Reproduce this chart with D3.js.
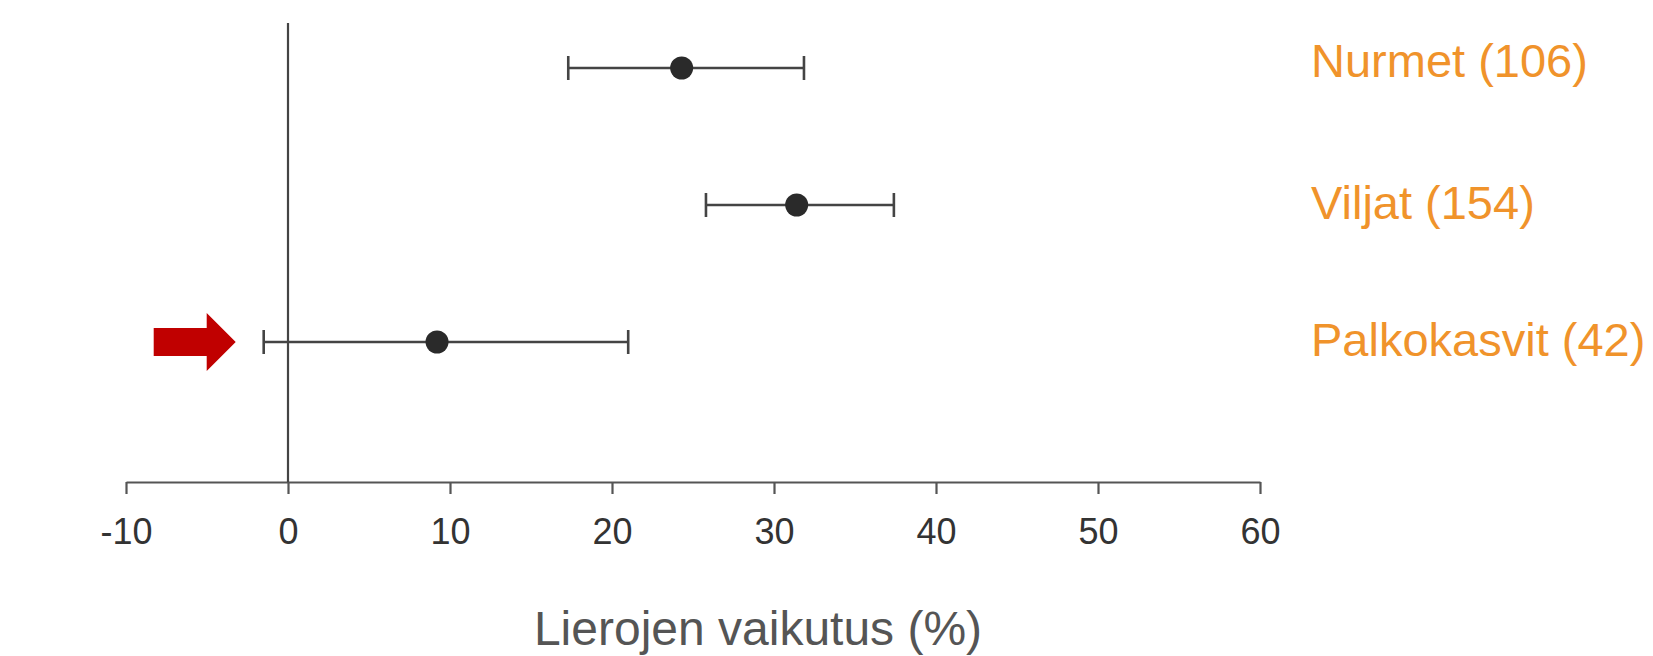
<!DOCTYPE html>
<html>
<head>
<meta charset="utf-8">
<script src="https://cdn.jsdelivr.net/npm/d3@7"></script>
<style>
  body { margin: 0; background: #fff; }
  svg { display: block; font-family: "Liberation Sans", Arial, sans-serif; }
</style>
</head>
<body>
<svg id="chart"></svg>
<script>
// data
const categories = ['Nurmet (106)', 'Viljat (154)', 'Palkokasvit (42)']
const means = [24.3, 31.4, 9.2]
const lower = [17.3, 25.8, -1.5]
const upper = [31.85, 37.4, 21.0]
const xTicks = [-10, 0, 10, 20, 30, 40, 50, 60]
const xLabel = 'Lierojen vaikutus (%)'
const highlighted = 'Palkokasvit (42)'

const width = 1653
const height = 656
const plotTop = 23
const plotBottom = 482

const svg = d3.select('#chart')
  .attr('width', width)
  .attr('height', height)

const x = d3.scaleLinear().domain([-10, 60]).range([126, 1260])
const y = d3.scalePoint().domain(categories).range([68, 342])

const rows = categories.map((c, i) => ({ cat: c, mean: means[i], lo: lower[i], hi: upper[i] }))

// x axis
const axis = svg.append('g')
  .attr('transform', `translate(0,${plotBottom})`)
  .call(d3.axisBottom(x)
    .tickValues(xTicks)
    .tickFormat(d => String(d))   // plain hyphen like the original
    .tickSize(12).tickSizeOuter(0).tickPadding(24))

axis.select('.domain').attr('stroke', '#555').attr('stroke-width', 2.2)
axis.selectAll('.tick line').attr('stroke', '#555').attr('stroke-width', 2.2)
axis.selectAll('.tick text')
  .attr('fill', '#333')
  .style('font-size', '36px')
  .style('font-family', '"Liberation Sans", Arial, sans-serif')

// zero line
svg.append('line')
  .attr('x1', x(0)).attr('x2', x(0))
  .attr('y1', plotTop).attr('y2', plotBottom)
  .attr('stroke', '#444')
  .attr('stroke-width', 2.2)

// error bars
const g = svg.append('g')
const capHalf = 12
const sw = 2.6

g.selectAll('.bar')
  .data(rows)
  .join('line')
  .attr('class', 'bar')
  .attr('x1', d => x(d.lo)).attr('x2', d => x(d.hi))
  .attr('y1', d => y(d.cat)).attr('y2', d => y(d.cat))
  .attr('stroke', '#444')
  .attr('stroke-width', sw)

g.selectAll('.capLo')
  .data(rows)
  .join('line')
  .attr('class', 'capLo')
  .attr('x1', d => x(d.lo)).attr('x2', d => x(d.lo))
  .attr('y1', d => y(d.cat) - capHalf).attr('y2', d => y(d.cat) + capHalf)
  .attr('stroke', '#444')
  .attr('stroke-width', sw)

g.selectAll('.capHi')
  .data(rows)
  .join('line')
  .attr('class', 'capHi')
  .attr('x1', d => x(d.hi)).attr('x2', d => x(d.hi))
  .attr('y1', d => y(d.cat) - capHalf).attr('y2', d => y(d.cat) + capHalf)
  .attr('stroke', '#444')
  .attr('stroke-width', sw)

g.selectAll('circle')
  .data(rows)
  .join('circle')
  .attr('cx', d => x(d.mean))
  .attr('cy', d => y(d.cat))
  .attr('r', 11.5)
  .attr('fill', '#2a2a2a')

// category labels on the right
svg.append('g')
  .selectAll('text')
  .data(rows)
  .join('text')
  .attr('x', 1311)
  .attr('y', (d, i) => y(d.cat) - (i === 0 ? 8 : 3))
  .attr('dominant-baseline', 'central')
  .attr('fill', '#f0932b')
  .style('font-size', '47px')
  .text(d => d.cat)

// red arrow pointing at the highlighted row
const ay = y(highlighted)
const tip = x(lower[categories.indexOf(highlighted)]) - 28
const arrow = d3.path()
arrow.moveTo(tip - 82, ay - 14)
arrow.lineTo(tip - 29, ay - 14)
arrow.lineTo(tip - 29, ay - 29)
arrow.lineTo(tip, ay)
arrow.lineTo(tip - 29, ay + 29)
arrow.lineTo(tip - 29, ay + 14)
arrow.lineTo(tip - 82, ay + 14)
arrow.closePath()
svg.append('path')
  .attr('d', arrow.toString())
  .attr('fill', '#c00000')

// x axis title
svg.append('text')
  .attr('x', 758)
  .attr('y', 645)
  .attr('text-anchor', 'middle')
  .attr('fill', '#555')
  .style('font-size', '48px')
  .text(xLabel)
</script>
</body>
</html>
